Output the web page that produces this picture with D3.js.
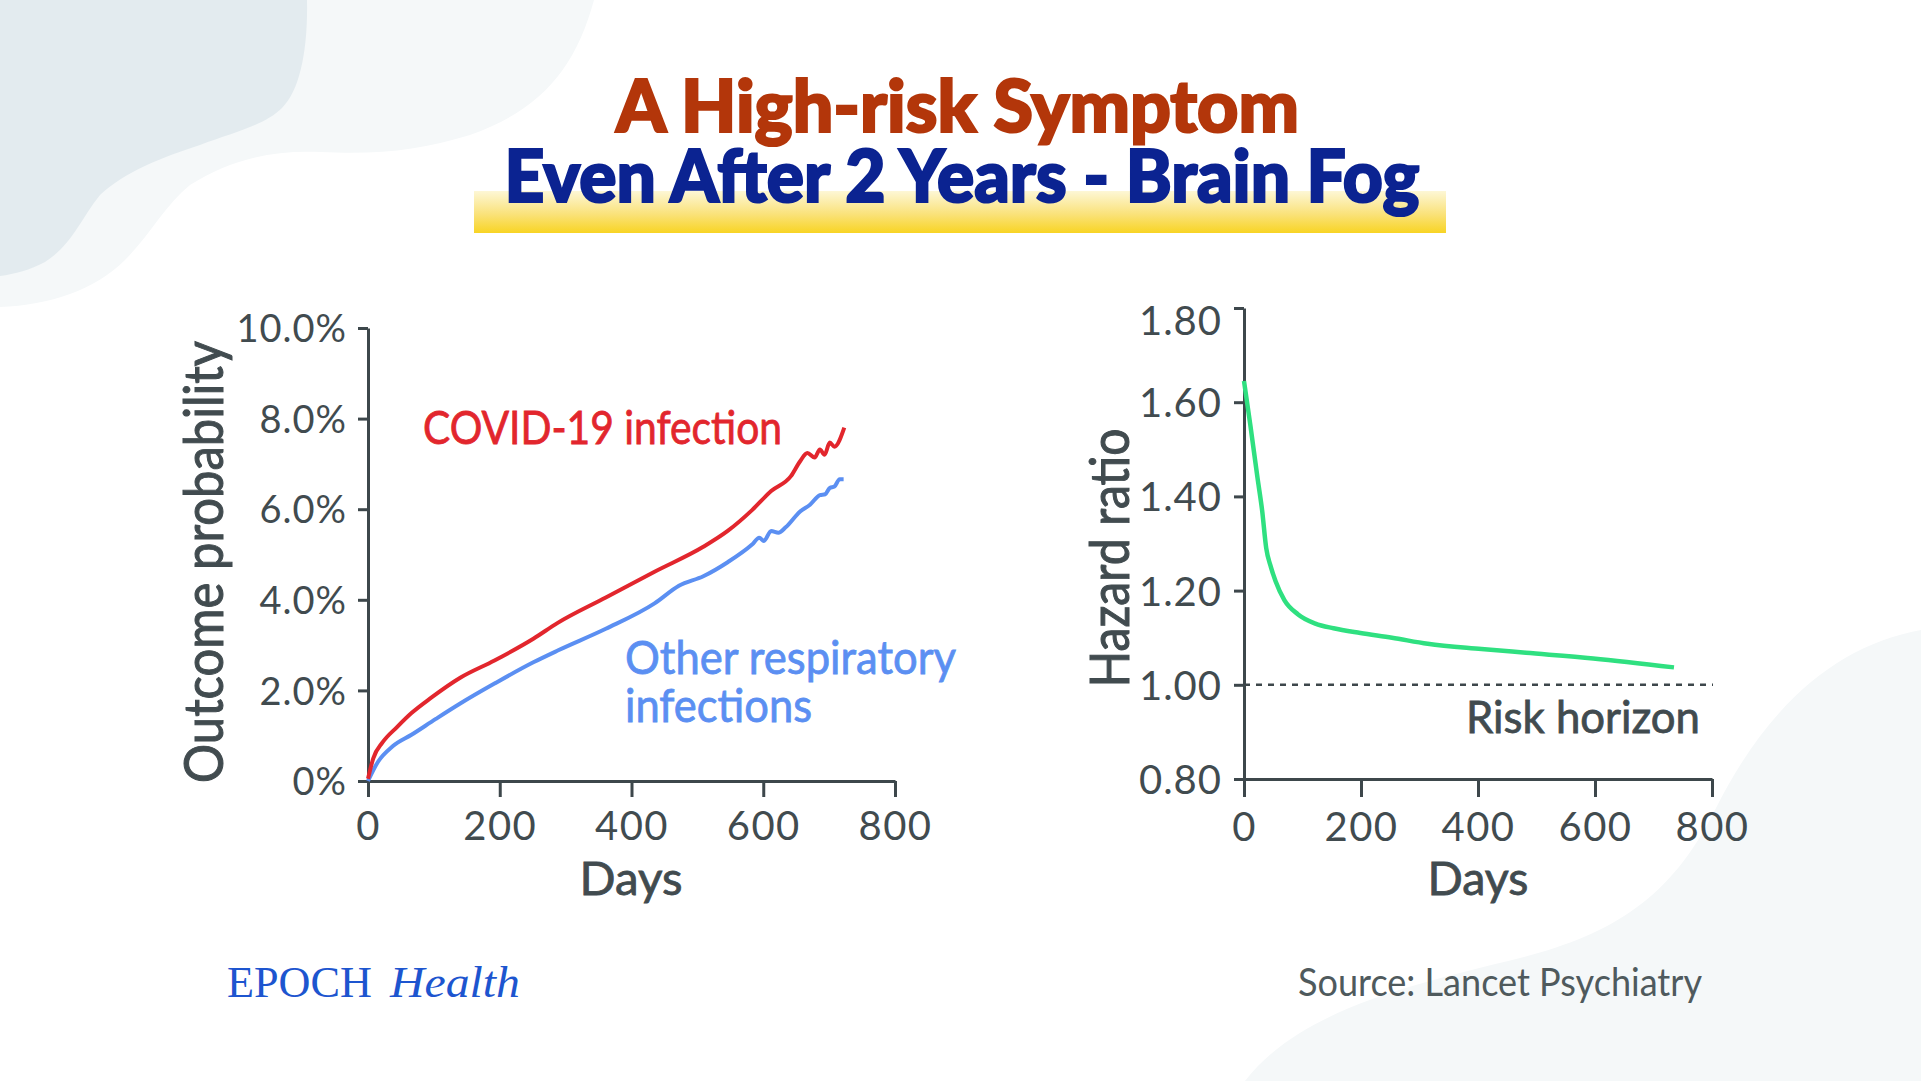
<!DOCTYPE html>
<html>
<head>
<meta charset="utf-8">
<script src="https://cdn.jsdelivr.net/npm/d3@7"></script>
<style>
  html, body { margin: 0; padding: 0; background: #ffffff; }
  svg { display: block; }
</style>
</head>
<body>
<svg id="chart" width="1921" height="1081"></svg>
<script>
// ---------------- DATA ----------------
const titleLines = ["A High-risk Symptom", "Even After 2 Years - Brain Fog"];

// Left chart: outcome probability (%) over days
const covidDays = [0, 8, 22, 44, 66, 96, 140, 192, 251, 288, 361, 435, 509, 546, 583, 612, 642, 656, 667, 678, 686, 693, 701, 708, 723];
const covidPct  = [0.05, 0.5, 0.85, 1.19, 1.5, 1.84, 2.28, 2.66, 3.14, 3.49, 4.05, 4.62, 5.17, 5.52, 5.98, 6.4, 6.73, 7.06, 7.24, 7.14, 7.32, 7.2, 7.47, 7.38, 7.8];

const otherDays = [0, 15, 37, 66, 103, 140, 192, 251, 288, 361, 435, 472, 509, 546, 583, 594, 601, 612, 623, 634, 656, 671, 686, 694, 701, 708, 716, 722];
const otherPct  = [0, 0.42, 0.76, 1.02, 1.37, 1.71, 2.15, 2.62, 2.88, 3.36, 3.92, 4.31, 4.52, 4.83, 5.22, 5.37, 5.3, 5.52, 5.48, 5.6, 5.95, 6.1, 6.31, 6.33, 6.47, 6.5, 6.66, 6.66];

const leftYTicks = [0, 2, 4, 6, 8, 10];
const leftYTickLabels = ["0%", "2.0%", "4.0%", "6.0%", "8.0%", "10.0%"];
const dayTicks = [0, 200, 400, 600, 800];

// Right chart: hazard ratio over days
const hrDays = [0, 11, 23, 31, 38, 46, 54, 69, 92, 122, 153, 199, 253, 314, 406, 482, 597, 735];
const hrVals = [1.645, 1.55, 1.44, 1.37, 1.29, 1.25, 1.22, 1.18, 1.15, 1.13, 1.12, 1.11, 1.10, 1.087, 1.076, 1.068, 1.056, 1.037];
const rightYTicks = [0.8, 1.0, 1.2, 1.4, 1.6, 1.8];
const riskHorizon = 1.0;

// ---------------- DRAW ----------------
const svg = d3.select("#chart");
const TXT = "#414b4f";
const AX = "#3d474b";
const SANS = "Lato, 'Noto Sans', sans-serif";

function fit(sel, w) { sel.attr("textLength", w).attr("lengthAdjust", "spacingAndGlyphs"); return sel; }
function thick(sel, color, w) { sel.attr("stroke", color).attr("stroke-width", w).attr("paint-order", "stroke"); return sel; }

// background shapes
svg.append("path")
  .attr("d", "M0,0 L594,0 C575,70 540,110 470,135 C420,150 380,155 320,152 C270,150 230,160 190,185 C165,205 150,235 125,260 C95,290 50,305 0,307 Z")
  .attr("fill", "#f5f8f9");
svg.append("path")
  .attr("d", "M0,0 L307,0 C308,50 300,90 282,108 C265,125 235,132 200,145 C160,158 125,172 100,195 C80,220 72,245 45,262 C30,270 15,274 0,276 Z")
  .attr("fill", "#e3ebef");
svg.append("path")
  .attr("d", "M1921,630 C1840,645 1770,700 1715,810 C1670,900 1610,935 1520,958 C1410,985 1300,1010 1245,1081 L1921,1081 Z")
  .attr("fill", "#f5f8f9");

// title highlight bar
const defs = svg.append("defs");
const grad = defs.append("linearGradient").attr("id", "ybar").attr("x1", 0).attr("y1", 0).attr("x2", 0).attr("y2", 1);
grad.append("stop").attr("offset", "0%").attr("stop-color", "#fdf7d6");
grad.append("stop").attr("offset", "55%").attr("stop-color", "#fae27a");
grad.append("stop").attr("offset", "100%").attr("stop-color", "#f8d424");
svg.append("rect").attr("x", 474).attr("y", 191).attr("width", 972).attr("height", 42).attr("fill", "url(#ybar)");

thick(fit(svg.append("text").attr("x", 957.5).attr("y", 132).attr("text-anchor", "middle")
  .attr("font-family", SANS).attr("font-weight", 900).attr("font-size", 72)
  .attr("fill", "#b3360a").text(titleLines[0]), 683), "#b3360a", 2.2);
thick(fit(svg.append("text").attr("x", 962).attr("y", 202).attr("text-anchor", "middle")
  .attr("font-family", SANS).attr("font-weight", 900).attr("font-size", 72)
  .attr("fill", "#0b2391").text(titleLines[1]), 915), "#0b2391", 2.2);

// ---------- Left chart ----------
const xL = d3.scaleLinear().domain([0, 800]).range([368, 895]);
const yL = d3.scaleLinear().domain([0, 10]).range([781, 328]);

const gLx = svg.append("g").attr("transform", "translate(0,781)")
  .call(d3.axisBottom(xL).tickValues(dayTicks).tickSize(16).tickSizeOuter(0).tickFormat(d3.format("d")));
const gLy = svg.append("g").attr("transform", "translate(368,0)")
  .call(d3.axisLeft(yL).tickValues(leftYTicks).tickSize(10).tickSizeOuter(0)
    .tickFormat((d, i) => leftYTickLabels[i]));

function styleAxis(g, isX) {
  g.select(".domain").attr("stroke", AX).attr("stroke-width", 3);
  g.selectAll(".tick line").attr("stroke", AX).attr("stroke-width", 3);
  g.selectAll(".tick text").attr("fill", TXT).attr("font-family", SANS)
    .attr("font-size", 40).attr("letter-spacing", 1.5);
  if (isX) g.selectAll(".tick text").attr("dy", null).attr("y", 59);
}
styleAxis(gLx, true);
styleAxis(gLy, false);
gLy.selectAll(".tick text").attr("x", -21).attr("dy", "0.36em").attr("font-size", 38).attr("letter-spacing", 1);

const lineL = d3.line().curve(d3.curveMonotoneX);
svg.append("path")
  .attr("d", lineL(otherDays.map((d, i) => [xL(d), yL(otherPct[i])])))
  .attr("fill", "none").attr("stroke", "#5b8ff2").attr("stroke-width", 4).attr("stroke-linejoin", "round");
svg.append("path")
  .attr("d", lineL(covidDays.map((d, i) => [xL(d), yL(covidPct[i])])))
  .attr("fill", "none").attr("stroke", "#e2262d").attr("stroke-width", 4).attr("stroke-linejoin", "round");

thick(fit(svg.append("text").attr("x", 423).attr("y", 444).attr("font-family", SANS).attr("font-size", 47)
  .attr("fill", "#e2262d").text("COVID-19 infection"), 359), "#e2262d", 0.8);
thick(fit(svg.append("text").attr("x", 625).attr("y", 674).attr("font-family", SANS).attr("font-size", 47)
  .attr("fill", "#5b8ff2").text("Other respiratory"), 331), "#5b8ff2", 0.8);
thick(fit(svg.append("text").attr("x", 625).attr("y", 722).attr("font-family", SANS).attr("font-size", 47)
  .attr("fill", "#5b8ff2").text("infections"), 187), "#5b8ff2", 0.8);

thick(fit(svg.append("text").attr("transform", "translate(223,562) rotate(-90)").attr("text-anchor", "middle")
  .attr("font-family", SANS).attr("font-size", 54).attr("fill", TXT).text("Outcome probability"), 442), TXT, 1);
thick(fit(svg.append("text").attr("x", 631).attr("y", 895).attr("text-anchor", "middle")
  .attr("font-family", SANS).attr("font-size", 47).attr("fill", TXT).text("Days"), 103), TXT, 0.8);

// ---------- Right chart ----------
const xR = d3.scaleLinear().domain([0, 800]).range([1244, 1712]);
const yR = d3.scaleLinear().domain([0.8, 1.8]).range([779, 308]);

const gRx = svg.append("g").attr("transform", "translate(0,779)")
  .call(d3.axisBottom(xR).tickValues(dayTicks).tickSize(18).tickSizeOuter(0).tickFormat(d3.format("d")));
const gRy = svg.append("g").attr("transform", "translate(1244,0)")
  .call(d3.axisLeft(yR).tickValues(rightYTicks).tickSize(10).tickSizeOuter(0).tickFormat(d3.format(".2f")));
styleAxis(gRx, true);
styleAxis(gRy, false);
gRx.selectAll(".tick text").attr("y", 62);
gRy.selectAll(".tick text").attr("x", -22).attr("dy", "0.36em").attr("font-size", 40).attr("letter-spacing", 1);
gRy.selectAll(".tick").filter(d => d === 1.8).select("text").attr("dy", "0.66em");

svg.append("line")
  .attr("x1", xR(0)).attr("x2", xR(800) + 1).attr("y1", yR(riskHorizon)).attr("y2", yR(riskHorizon))
  .attr("stroke", AX).attr("stroke-width", 2.5).attr("stroke-dasharray", "6,6");

svg.append("path")
  .attr("d", lineL(hrDays.map((d, i) => [xR(d), yR(hrVals[i])])))
  .attr("fill", "none").attr("stroke", "#2fe080").attr("stroke-width", 4.5).attr("stroke-linejoin", "round");

thick(fit(svg.append("text").attr("x", 1700).attr("y", 733).attr("text-anchor", "end")
  .attr("font-family", SANS).attr("font-size", 44).attr("fill", TXT).text("Risk horizon"), 234), TXT, 0.8);
thick(fit(svg.append("text").attr("transform", "translate(1129,558) rotate(-90)").attr("text-anchor", "middle")
  .attr("font-family", SANS).attr("font-size", 54).attr("fill", TXT).text("Hazard ratio"), 259), TXT, 1);
thick(fit(svg.append("text").attr("x", 1478).attr("y", 895).attr("text-anchor", "middle")
  .attr("font-family", SANS).attr("font-size", 47).attr("fill", TXT).text("Days"), 101), TXT, 0.8);

// ---------- Footer ----------
fit(svg.append("text").attr("x", 227).attr("y", 997).attr("font-family", "'Liberation Serif', 'DejaVu Serif', serif")
  .attr("font-size", 45).attr("fill", "#1d55cf").text("EPOCH"), 145);
fit(svg.append("text").attr("x", 390).attr("y", 997).attr("font-family", "'Liberation Serif', 'DejaVu Serif', serif")
  .attr("font-style", "italic").attr("font-size", 45).attr("fill", "#1d55cf").text("Health"), 130);
fit(svg.append("text").attr("x", 1702).attr("y", 996).attr("text-anchor", "end")
  .attr("font-family", SANS).attr("font-size", 38).attr("fill", "#4f5a5d").text("Source: Lancet Psychiatry"), 404);
</script>
</body>
</html>
